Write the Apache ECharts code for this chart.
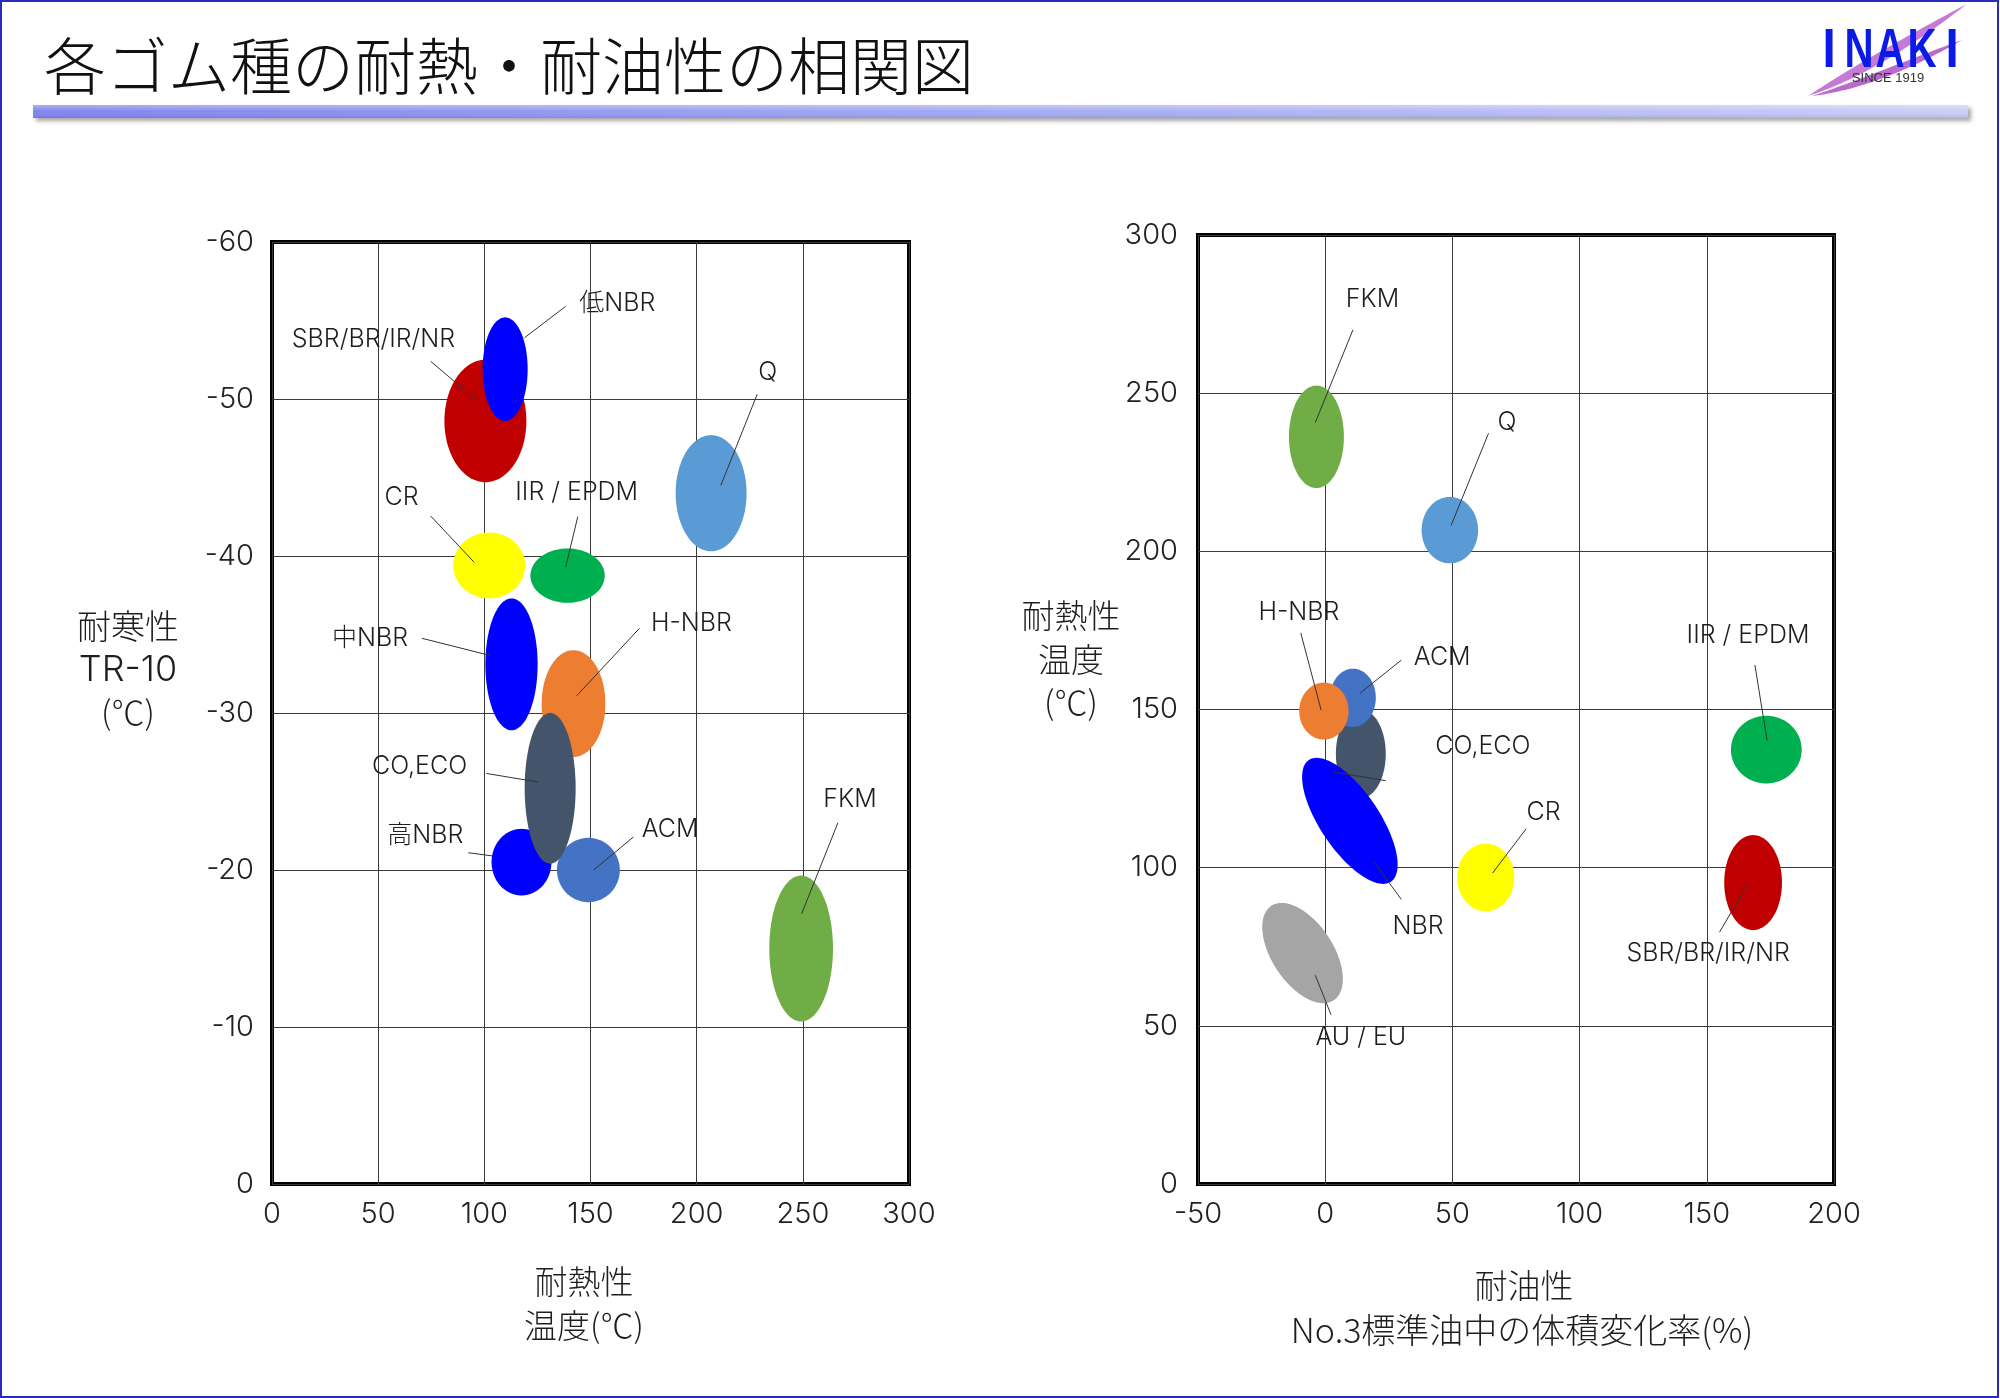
<!DOCTYPE html>
<html><head><meta charset="utf-8">
<script src="https://cdn.jsdelivr.net/npm/echarts@6.0.0/dist/echarts.min.js"></script>
<style>html,body{margin:0;padding:0;background:#fff}#c{width:2000px;height:1398px}</style>
</head><body><div id="c"></div>
<script>
// ===== Left chart: heat resistance (°C) vs cold resistance TR-10 (°C) =====
const leftNames    = ['SBR/BR/IR/NR','低NBR','Q','CR','IIR / EPDM','中NBR','H-NBR','高NBR','ACM','CO,ECO','FKM'];
const leftHeat     = [100.5, 109.8, 206.8, 102.3, 139.2, 112.8, 142.0, 117.5, 149.0, 131.0, 249.2]; // centre, °C
const leftCold     = [-48.6, -51.9, -44.0, -39.4, -38.75, -33.1, -30.6, -20.5, -20.0, -25.2, -15.0]; // centre, TR-10 °C
const leftHeatHalf = [19.3, 10.6, 16.7, 16.9, 17.5, 12.3, 15.0, 14.1, 14.8, 12.0, 15.0];  // half range
const leftColdHalf = [3.9, 3.3, 3.7, 2.1, 1.73, 4.2, 3.4, 2.12, 2.05, 4.8, 4.65];          // half range
// label anchor (data units) and leader line ends
const leftLabelX = [47.8, 162.6, 233.5, 61.0, 143.5, 46.2, 197.5, 72.2, 187.5, 69.5, 272.2];
const leftLabelY = [-53.8, -56.06, -51.7, -43.7, -44.05, -34.76, -35.7, -22.2, -22.6, -26.57, -24.5];
const leftLeadX1 = [74.7, 138.3, 228.5, 74.7, 144.0, 70.6, 173.1, 92.5, 170.2, 101.0, 266.5];
const leftLeadY1 = [-52.4, -55.9, -50.3, -42.55, -42.5, -34.76, -35.4, -21.1, -22.1, -26.15, -23.0];
const leftLeadX2 = [95.7, 118.9, 211.4, 95.2, 138.3, 102.5, 143.5, 103.6, 151.5, 125.4, 249.4];
const leftLeadY2 = [-50.0, -53.9, -44.5, -39.6, -39.3, -33.67, -31.1, -20.9, -20.0, -25.6, -17.2];

// ===== Right chart: oil resistance (volume change %) vs heat resistance (°C) =====
const rightNames    = ['FKM','Q','IIR / EPDM','SBR/BR/IR/NR','CR','AU / EU','CO,ECO','ACM','H-NBR','NBR'];
const rightOil      = [-3.45, 49.0, 173.4, 168.2, 63.1, -8.9, 14.0, 10.9, -0.5, 9.7];
const rightHeat     = [236.2, 206.7, 137.3, 95.3, 96.9, 73.0, 136.0, 153.7, 149.5, 114.8];
const rightOilHalf  = [10.8, 11.1, 13.9, 11.35, 11.2, 12.0, 9.8, 9.0, 9.7, 11.6];
const rightHeatHalf = [16.2, 10.5, 10.7, 15.0, 10.7, 17.9, 14.0, 9.2, 9.0, 23.2];
const rightTilt     = [0, 0, 0, 0, 0, 33.5, 0, 0, 0, 34];  // degrees
const rightLabelX = [18.6, 71.5, 166.2, 150.5, 85.8, 14.0, 62.0, 46.0, -10.3, 36.5];
const rightLabelY = [279.7, 240.8, 173.4, 72.9, 117.6, 46.3, 138.3, 166.3, 180.8, 81.3];
const rightLeadX1 = [10.9, 64.2, 168.9, 155.0, 79.0, 2.3, 3.6, 29.9, -9.6, 29.9];
const rightLeadY1 = [270.0, 237.3, 164.1, 79.6, 112.3, 53.5, 130.2, 165.6, 174.2, 90.0];
const rightLeadX2 = [-3.9, 49.5, 173.7, 166.0, 65.8, -3.9, 23.8, 13.6, -1.6, 19.2];
const rightLeadY2 = [240.7, 208.2, 140.2, 94.7, 98.3, 66.0, 127.5, 155.1, 149.8, 101.7];

// ===== Axis ticks [min, max, interval] =====
const leftXTicks  = [0, 300, 50];
const leftYTicks  = [-60, 0, 10];
const rightXTicks = [-50, 200, 50];
const rightYTicks = [0, 300, 50];

// ===== styles =====
const leftColors  = ['#c00000','#0000ff','#5b9bd5','#ffff00','#00b050','#0000ff','#ed7d31','#0000ff','#4472c4','#44546a','#70ad47'];
const rightColors = ['#70ad47','#5b9bd5','#00b050','#c00000','#ffff00','#a5a5a5','#44546a','#4472c4','#ed7d31','#0000ff'];
const FONT = "'Noto Sans CJK JP', 'Noto Sans', sans-serif";
const LFONT = "Inter, 'Noto Sans CJK JP', sans-serif";

function ellipseRenderer(colors) {
  return function (params, api) {
    const c = api.coord([api.value(0), api.value(1)]);
    const a = api.size([api.value(2), 0])[0];
    const b = api.size([0, api.value(3)])[1];
    const r = api.value(4) * Math.PI / 180;
    const pts = [];
    for (let k = 0; k < 120; k++) {
      const t = k / 120 * Math.PI * 2;
      const x = a * Math.cos(t), y = b * Math.sin(t);
      pts.push([c[0] + x * Math.cos(r) + y * Math.sin(r), c[1] - x * Math.sin(r) + y * Math.cos(r)]);
    }
    return { type: 'polygon', shape: { points: pts }, style: { fill: colors[params.dataIndex] } };
  };
}
function labelRenderer(names) {
  return function (params, api) {
    const t = api.coord([api.value(0), api.value(1)]);
    const p1 = api.coord([api.value(2), api.value(3)]);
    const p2 = api.coord([api.value(4), api.value(5)]);
    return { type: 'group', children: [
      { type: 'line', shape: { x1: p1[0], y1: p1[1], x2: p2[0], y2: p2[1] }, style: { stroke: '#333', lineWidth: 1 } },
      { type: 'text', x: t[0], y: t[1], style: { text: names[params.dataIndex], fill: '#1e1e1e', fontSize: 25, fontFamily: LFONT, fontWeight: 300, align: 'center', verticalAlign: 'middle' } }
    ]};
  };
}

const leftEllipses = leftHeat.map((v, i) => [v, leftCold[i], leftHeatHalf[i], leftColdHalf[i], 0]);
const leftLabels = leftNames.map((n, i) => [leftLabelX[i], leftLabelY[i], leftLeadX1[i], leftLeadY1[i], leftLeadX2[i], leftLeadY2[i]]);
const rightEllipses = rightOil.map((v, i) => [v, rightHeat[i], rightOilHalf[i], rightHeatHalf[i], rightTilt[i]]);
const rightLabels = rightNames.map((n, i) => [rightLabelX[i], rightLabelY[i], rightLeadX1[i], rightLeadY1[i], rightLeadX2[i], rightLeadY2[i]]);

const axisLabelStyle = { fontSize: 29, color: '#222', fontFamily: LFONT, fontWeight: 300 };
const splitLineStyle = { show: true, lineStyle: { color: '#3a3a3a', width: 1 } };
function valAxis(ticks, gridIndex, extra) {
  return Object.assign({
    type: 'value', gridIndex, min: ticks[0], max: ticks[1], interval: ticks[2],
    axisLine: { show: false }, axisTick: { show: false }, splitLine: splitLineStyle,
    axisLabel: Object.assign({ margin: 16 }, axisLabelStyle)
  }, extra || {});
}
function txt(text, x, y, size, fam) {
  return { type: 'text', x, y, style: { text, fontSize: size, fontFamily: fam || FONT, fontWeight: 300, fill: '#1e1e1e', align: 'center', verticalAlign: 'middle' } };
}
// cubic bezier crescent -> polygon points (logo decoration)
function crescent(p0, c1, c2, p3, d1, d2) {
  const pts = [];
  function bz(a, b, c, d, t) { const u = 1 - t; return [u*u*u*a[0] + 3*u*u*t*b[0] + 3*u*t*t*c[0] + t*t*t*d[0], u*u*u*a[1] + 3*u*u*t*b[1] + 3*u*t*t*c[1] + t*t*t*d[1]]; }
  for (let k = 0; k <= 40; k++) pts.push(bz(p0, c1, c2, p3, k / 40));
  for (let k = 0; k <= 40; k++) pts.push(bz(p3, d1, d2, p0, k / 40));
  return pts;
}
function logoLetter(ch, x, sx) {
  return { type: 'text', x, y: 52, scaleX: sx, style: { text: ch, fontSize: 56, fontWeight: 'bold', fontFamily: 'Liberation Sans', fill: '#0c1ae8', align: 'center', verticalAlign: 'middle' } };
}

const chart = echarts.init(document.getElementById('c'), null, { renderer: 'canvas' });
chart.setOption({
  animation: false,
  backgroundColor: '#fff',
  grid: [
    { left: 272, top: 242, width: 637, height: 942, show: true, borderColor: '#000', borderWidth: 4 },
    { left: 1198, top: 235, width: 636, height: 949, show: true, borderColor: '#000', borderWidth: 4 }
  ],
  xAxis: [ valAxis(leftXTicks, 0), valAxis(rightXTicks, 1) ],
  yAxis: [
    valAxis(leftYTicks, 0, { inverse: true, axisLabel: Object.assign({ margin: 18 }, axisLabelStyle) }),
    valAxis(rightYTicks, 1, { axisLabel: Object.assign({ margin: 20 }, axisLabelStyle) })
  ],
  series: [
    { type: 'custom', xAxisIndex: 0, yAxisIndex: 0, renderItem: ellipseRenderer(leftColors), data: leftEllipses, z: 2 },
    { type: 'custom', xAxisIndex: 0, yAxisIndex: 0, renderItem: labelRenderer(leftNames), data: leftLabels, z: 3 },
    { type: 'custom', xAxisIndex: 1, yAxisIndex: 1, renderItem: ellipseRenderer(rightColors), data: rightEllipses, z: 2 },
    { type: 'custom', xAxisIndex: 1, yAxisIndex: 1, renderItem: labelRenderer(rightNames), data: rightLabels, z: 3 }
  ],
  graphic: [
    { type: 'rect', shape: { x: 1, y: 1, width: 1997, height: 1396 }, style: { fill: 'none', stroke: '#2b2bc0', lineWidth: 2 }, z: 100 },
    { type: 'text', x: 44, y: 66, style: { text: '各ゴム種の耐熱・耐油性の相関図', fontSize: 62, fontFamily: FONT, fontWeight: 300, fill: '#111', align: 'left', verticalAlign: 'middle' } },
    { type: 'rect', shape: { x: 33, y: 105, width: 1935, height: 13 },
      style: { fill: new echarts.graphic.LinearGradient(0, 0, 1, 0, [{ offset: 0, color: '#8184ee' }, { offset: 1, color: '#c9cef6' }]),
               shadowBlur: 4, shadowOffsetX: 3, shadowOffsetY: 3, shadowColor: 'rgba(0,0,0,0.35)' } },
    { type: 'rect', shape: { x: 33, y: 105, width: 1935, height: 13 },
      style: { fill: new echarts.graphic.LinearGradient(0, 0, 0, 1, [{ offset: 0, color: 'rgba(255,255,255,0.35)' }, { offset: 0.5, color: 'rgba(255,255,255,0)' }, { offset: 1, color: 'rgba(40,40,120,0.15)' }]) } },
    // logo
    { type: 'polygon', shape: { points: crescent([1808, 96], [1850, 68], [1910, 34], [1967, 4], [1918, 42], [1864, 78]) }, style: { fill: '#c57bd6' } },
    { type: 'polygon', shape: { points: crescent([1812, 96], [1860, 80], [1912, 58], [1962, 40], [1914, 68], [1862, 90]) }, style: { fill: '#b96bcc' } },
    logoLetter('I', 1829, 0.85), logoLetter('N', 1859, 0.72), logoLetter('A', 1890, 0.72), logoLetter('K', 1922, 0.72), logoLetter('I', 1952, 0.85),
    { type: 'text', x: 1888, y: 78, style: { text: 'SINCE 1919', fontSize: 13, fontFamily: 'Liberation Sans', fill: '#333', align: 'center', verticalAlign: 'middle' } },
    // axis names
    txt('耐寒性', 128, 626, 34), txt('TR-10', 128, 670, 36, LFONT), txt('(℃)', 128, 712, 33),
    txt('耐熱性', 584, 1281, 33), txt('温度(℃)', 584, 1325, 33),
    txt('耐熱性', 1071, 615, 33), txt('温度', 1071, 659, 33), txt('(℃)', 1071, 702, 33),
    txt('耐油性', 1524, 1285, 33), txt('No.3標準油中の体積変化率(%)', 1522, 1330, 34)
  ]
});
</script></body></html>
